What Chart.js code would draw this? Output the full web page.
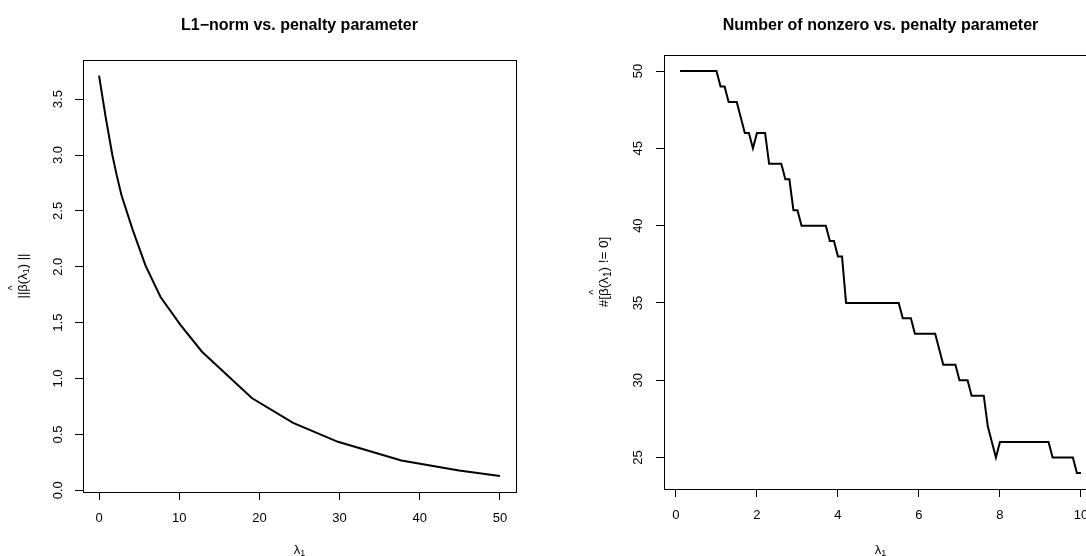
<!DOCTYPE html>
<html><head><meta charset="utf-8">
<script src="https://cdn.jsdelivr.net/npm/chart.js@4/dist/chart.umd.min.js"></script>
<style>
html,body{margin:0;padding:0;background:#fff;width:1086px;height:556px;overflow:hidden;position:relative}
#c1{position:absolute;left:0;top:0}
#c2{position:absolute;left:543px;top:0}
</style></head><body>
<canvas id="c1" width="543" height="556"></canvas>
<canvas id="c2" width="600" height="556"></canvas>
<script>
// ---- Left chart: L1-norm vs penalty parameter ----
const l1Lambda = [0, 0.8, 1.66, 2.2, 2.8, 4.2, 5.8, 7.67, 10.15, 12.84, 19.05, 24.2, 29.8, 37.7, 44.9, 50];
const l1Norm   = [3.71, 3.35, 3.0, 2.82, 2.64, 2.33, 2.01, 1.73, 1.48, 1.24, 0.826, 0.603, 0.434, 0.267, 0.178, 0.128];
const l1XTicks = [0, 10, 20, 30, 40, 50];
const l1YTicks = [0, 0.5, 1.0, 1.5, 2.0, 2.5, 3.0, 3.5];

// ---- Right chart: number of nonzero vs penalty parameter ----
const nzLambda = [0.1,0.2,0.3,0.4,0.5,0.6,0.7,0.8,0.9,1.0,
                  1.1,1.2,1.3,1.4,1.5,1.6,1.7,1.8,1.9,2.0,
                  2.1,2.2,2.3,2.4,2.5,2.6,2.7,2.8,2.9,3.0,
                  3.1,3.2,3.3,3.4,3.5,3.6,3.7,3.8,3.9,4.0,
                  4.1,4.2,4.3,4.4,4.5,4.6,4.7,4.8,4.9,5.0,
                  5.1,5.2,5.3,5.4,5.5,5.6,5.7,5.8,5.9,6.0,
                  6.1,6.2,6.3,6.4,6.5,6.6,6.7,6.8,6.9,7.0,
                  7.1,7.2,7.3,7.4,7.5,7.6,7.7,7.8,7.9,8.0,
                  8.1,8.2,8.3,8.4,8.5,8.6,8.7,8.8,8.9,9.0,
                  9.1,9.2,9.3,9.4,9.5,9.6,9.7,9.8,9.9,10.0];
const nzCount  = [50,50,50,50,50,50,50,50,50,50,
                  49,49,48,48,48,47,46,46,45,46,
                  46,46,44,44,44,44,43,43,41,41,
                  40,40,40,40,40,40,40,39,39,38,
                  38,35,35,35,35,35,35,35,35,35,
                  35,35,35,35,35,34,34,34,33,33,
                  33,33,33,33,32,31,31,31,31,30,
                  30,30,29,29,29,29,27,26,25,26,
                  26,26,26,26,26,26,26,26,26,26,
                  26,26,25,25,25,25,25,25,24,24];
const nzXTicks = [0, 2, 4, 6, 8, 10];
const nzYTicks = [25, 30, 35, 40, 45, 50];

const FAM = '"Liberation Sans", Arial, "DejaVu Sans", sans-serif';

function drawPieces(ctx, pieces, size) {
  const widths = pieces.map(p => {
    ctx.font = (p.sub ? Math.round(size*0.72) : size) + 'px ' + FAM;
    return ctx.measureText(p.t).width;
  });
  const total = widths.reduce((a,b)=>a+b,0);
  let x = -total/2;
  ctx.textAlign = 'left';
  ctx.textBaseline = 'middle';
  pieces.forEach((p,i) => {
    ctx.font = (p.sub ? Math.round(size*0.72) : size) + 'px ' + FAM;
    ctx.fillText(p.t, x, p.sub ? 4 : 0);
    if (p.hat) {
      ctx.font = Math.round(size*0.8) + 'px ' + FAM;
      ctx.textAlign = 'center';
      ctx.fillText('^', x + widths[i]/2, -size*0.75);
      ctx.textAlign = 'left';
    }
    x += widths[i];
  });
}

const decor = {
  id: 'decor',
  afterDraw(chart, args, opts) {
    const {ctx, chartArea: a} = chart;
    ctx.save();
    ctx.strokeStyle = '#000';
    ctx.lineWidth = 1;
    ctx.strokeRect(Math.round(a.left)+0.5, Math.round(a.top)+0.5,
                   Math.round(a.right - a.left), Math.round(a.bottom - a.top));
    ctx.fillStyle = '#000';
    const cx = (a.left + a.right) / 2;
    ctx.font = 'bold 16px ' + FAM;
    ctx.textAlign = 'center';
    ctx.textBaseline = 'middle';
    ctx.fillText(opts.title, cx, 26);
    ctx.save();
    ctx.translate(cx, 550);
    drawPieces(ctx, [{t:'λ'},{t:'1', sub:true}], 13);
    ctx.restore();
    ctx.save();
    ctx.translate(a.left - 60, (a.top + a.bottom)/2);
    ctx.rotate(-Math.PI/2);
    drawPieces(ctx, opts.yPieces, opts.ySize);
    ctx.restore();
    ctx.restore();
  }
};

function makeChart(id, xs, ys, xT, yT, xmin, xmax, ymin, ymax, yLeft, padRight, xH, yFmt, title, yPieces, yPad, ySize, top) {
  return new Chart(document.getElementById(id), {
    type: 'line',
    data: { datasets: [{ data: xs.map((x,i)=>({x:x, y:ys[i]})), borderColor:'#000', borderWidth:2,
                         pointRadius:0, tension:0, fill:false }] },
    options: {
      responsive:false, animation:false, devicePixelRatio:1,
      layout: { padding: { left:0, top: top, right: padRight, bottom:0 } },
      plugins: { legend:{display:false}, tooltip:{enabled:false}, decor:{ title:title, yPieces:yPieces, ySize:ySize } },
      scales: {
        x: { type:'linear', min:xmin, max:xmax,
             afterBuildTicks: s => { s.ticks = xT.map(v=>({value:v})); },
             afterFit: s => { s.height = xH; },
             grid:{ drawOnChartArea:false, drawTicks:true, tickLength:8, color:'#000', lineWidth:1 },
             border:{ display:true, color:'#000', width:1 },
             ticks:{ color:'#000', font:{family:FAM, size:13}, padding:11, maxRotation:0, autoSkip:false,
                     callback: v => String(v) } },
        y: { type:'linear', min:ymin, max:ymax,
             afterBuildTicks: s => { s.ticks = yT.map(v=>({value:v})); },
             afterFit: s => { s.width = yLeft; },
             grid:{ drawOnChartArea:false, drawTicks:true, tickLength:8, color:'#000', lineWidth:1 },
             border:{ display:true, color:'#000', width:1 },
             ticks:{ color:'#000', font:{family:FAM, size:13}, padding:yPad, minRotation:90, maxRotation:90,
                     crossAlign:'center', autoSkip:false, callback: yFmt } }
      }
    },
    plugins: [decor]
  });
}

makeChart('c1', l1Lambda, l1Norm, l1XTicks, l1YTicks, -2, 52, -0.015, 3.85, 83, 27, 64,
  v => v.toFixed(1), 'L1\u2212norm vs. penalty parameter',
  [{t:'||'},{t:'β', hat:true},{t:'(λ'},{t:'1', sub:true},{t:') ||'}], 8, 13, 60);

makeChart('c2', nzLambda, nzCount, nzXTicks, nzYTicks, -0.296, 10.396, 22.96, 51.04, 121, 46, 67,
  v => String(v), 'Number of nonzero vs. penalty parameter',
  [{t:'#['},{t:'β', hat:true},{t:'(λ'},{t:'1', sub:true},{t:') != 0]'}], 10, 13.5, 55);
</script>
</body></html>
